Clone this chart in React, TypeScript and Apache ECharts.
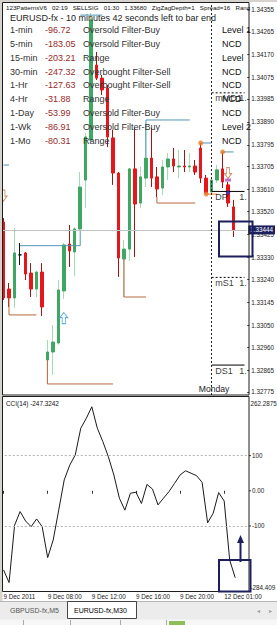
import React, { useEffect, useRef } from 'react';
import * as echarts from 'echarts';

const FONT = 'Liberation Sans';

const categories = [
  '9 Dec 04:00', '9 Dec 04:30', '9 Dec 05:00', '9 Dec 05:30', '9 Dec 06:00', '9 Dec 06:30', '9 Dec 07:00', '9 Dec 07:30',
  '9 Dec 08:00', '9 Dec 08:30', '9 Dec 09:00', '9 Dec 09:30', '9 Dec 10:00', '9 Dec 10:30', '9 Dec 11:00', '9 Dec 11:30',
  '9 Dec 12:00', '9 Dec 12:30', '9 Dec 13:00', '9 Dec 13:30', '9 Dec 14:00', '9 Dec 14:30', '9 Dec 15:00', '9 Dec 15:30',
  '9 Dec 16:00', '9 Dec 16:30', '9 Dec 17:00', '9 Dec 17:30', '9 Dec 18:00', '9 Dec 18:30', '9 Dec 19:00', '9 Dec 19:30',
  '9 Dec 20:00', '9 Dec 20:30', '9 Dec 21:00', '9 Dec 21:30', '9 Dec 22:00', '9 Dec 22:30',
  '12 Dec 00:00', '12 Dec 00:30', '12 Dec 01:00', '12 Dec 01:30', '12 Dec 02:00',
  '12 Dec 02:30', '12 Dec 03:00',
];

const openP = [1.33477, 1.33200, 1.33163, 1.33341, 1.33349, 1.33266, 1.33200, 1.33270, 1.32907, 1.32940, 1.32977, 1.33192, 1.33386, 1.33353, 1.33448, 1.33650, 1.33815, 1.34125, 1.34071, 1.34030, 1.33824, 1.33679, 1.33324, 1.33365, 1.33696, 1.33555, 1.33658, 1.33741, 1.33663, 1.33617, 1.33704, 1.33737, 1.33704, 1.33708, 1.33704, 1.33708, 1.33782, 1.33658, 1.33601, 1.33650, 1.33696, 1.33630, 1.33539];
const closeP = [1.33163, 1.33163, 1.33349, 1.33341, 1.33262, 1.33200, 1.33270, 1.33126, 1.32940, 1.32981, 1.33196, 1.33382, 1.33357, 1.33448, 1.33621, 1.33828, 1.34311, 1.34071, 1.34022, 1.33828, 1.33679, 1.33328, 1.33365, 1.33696, 1.33551, 1.33663, 1.33741, 1.33658, 1.33613, 1.33704, 1.33737, 1.33708, 1.33708, 1.33704, 1.33708, 1.33683, 1.33658, 1.33597, 1.33650, 1.33692, 1.33642, 1.33555, 1.33444];
const lowP = [1.33155, 1.33126, 1.33122, 1.33299, 1.33237, 1.33167, 1.33167, 1.33089, 1.32812, 1.32845, 1.32970, 1.33159, 1.33291, 1.33254, 1.33444, 1.33535, 1.33807, 1.34063, 1.34001, 1.33786, 1.33630, 1.33250, 1.33167, 1.33316, 1.33332, 1.33535, 1.33621, 1.33621, 1.33580, 1.33588, 1.33650, 1.33683, 1.33658, 1.33683, 1.33683, 1.33671, 1.33638, 1.33592, 1.33588, 1.33638, 1.33617, 1.33539, 1.33415];
const highP = [1.33493, 1.33225, 1.33452, 1.33390, 1.33353, 1.33307, 1.33275, 1.33307, 1.32990, 1.33051, 1.33237, 1.33390, 1.33464, 1.33456, 1.33683, 1.33844, 1.34340, 1.34179, 1.34084, 1.34042, 1.33857, 1.33683, 1.33402, 1.33700, 1.33865, 1.33704, 1.33857, 1.33865, 1.33704, 1.33733, 1.33762, 1.33782, 1.33774, 1.33774, 1.33762, 1.33733, 1.33803, 1.33671, 1.33658, 1.33712, 1.33766, 1.33642, 1.33568];

const cci = [-225, -261, -98, -59, -86, -102, -80, -102, -190, -140, -55, 31, 73, 102, 178, 206, 239, 178, 140, 97, 45, -21, -55, -7, -4, -36, 18, 5, -40, -21, -2, 21, 45, 57, 50, 43, 24, -91, -64, -5, -29, -197, -247.3242];

const priceTicks = [1.32775, 1.32865, 1.32960, 1.33050, 1.33145, 1.33240, 1.33330, 1.33425, 1.33520, 1.33610, 1.33705, 1.33795, 1.33890, 1.33985, 1.34075, 1.34170, 1.34265, 1.34355];
const priceMin = 1.327624;
const priceMax = 1.343831;
const bidPrice = 1.33444;

const cciMin = -284.409;
const cciMax = 262.2875;
const cciTicks = [-100, 0, 100];
const cciTickLabels = ['-100', '0.00', '100'];
const cciRangeLabels = ['262.2875', '-284.409'];
const cciLevels = [100, -100];

const timeTickIndex = [0, 8, 16, 24, 32, 40];
const timeTickLabels = ['9 Dec 2011', '9 Dec 08:00', '9 Dec 12:00', '9 Dec 16:00', '9 Dec 20:00', '12 Dec 01:00'];

const blueSegments = [
  [[0, 1.33712], [1, 1.33712]],
  [[3, 1.33379], [14, 1.33379], [14, 1.33444]],
  [[14, 1.34331], [18, 1.34331]],
  [[26, 1.33745], [26, 1.33898], [34, 1.33898]],
  [[36, 1.33803], [38, 1.33803]],
  [[40, 1.33766], [42, 1.33766]],
];
const brownSegments = [
  [[1, 1.33163], [1, 1.33093], [6, 1.33093]],
  [[8, 1.32907], [8, 1.32808], [20, 1.32808]],
  [[22, 1.33324], [22, 1.33167], [26, 1.33167]],
  [[28, 1.33580], [28, 1.33555], [35, 1.33555]],
];
const orangeSegments = [
  [[37, 1.33592], [39, 1.33592]],
];
const zigzagPoints = [[36, 1.33803], [37, 1.33592], [40, 1.33766]];
const upArrows = [[11, 1.33080]];
const downArrows = [[41, 1.33679], [0, 1.33586]];

const pivotNames = ['mMD1', 'DP', 'mS1', 'DS1'];
const pivotValues = [1.34010, 1.33603, 1.33248, 1.32886];
const pivotDotted = [true, false, true, false];
const pivotStart = 38;
const pivotEnd = 44;

const tfNames = ['1-min', '5-min', '15-min', '30-min', '1-Hr', '4-Hr', '1-Day', '1-Wk', '1-Mo'];
const tfCci = ['-96.72', '-183.05', '-203.21', '-247.32', '-127.63', '-31.88', '-53.99', '-86.91', '-80.31'];
const tfSignal = ['Oversold Filter-Buy', 'Oversold Filter-Buy', 'Range', 'Overbought Filter-Sell', 'Overbought Filter-Sell', 'Range', 'Oversold Filter-Buy', 'Oversold Filter-Buy', 'Range'];
const tfLevel = ['Level 1', 'NCD', 'Level', 'NCD', 'NCD', 'NCD', 'NCD', 'Level 2', 'NCD'];

const GREEN = '#3fa762';
const GREEN_WICK = '#a9d9b5';
const RED = '#e5161c';
const RED_WICK = '#a01414';
const BLUE_LINE = '#4f95b5';
const BROWN_LINE = '#b8683e';
const NAVY = '#1c1f5c';

function txt(x: number, y: number, text: string, size: number, color: string, align = 'left') {
  return {
    type: 'text', x, y, z: 100, silent: true,
    style: {
      text, fontSize: size, fontFamily: FONT, fill: color,
      align, verticalAlign: 'middle', textAlign: align, textVerticalAlign: 'middle',
    },
  };
}

export default function App() {
  const ref = useRef<HTMLDivElement>(null);

  useEffect(() => {
    if (!ref.current) return;
    const chart = echarts.init(ref.current, undefined, { renderer: 'svg' });

    const ohlc = openP.map((o, i) => [o, closeP[i], lowP[i], highP[i]]);
    const bodies = openP.map((o, i) => [o, closeP[i], Math.min(o, closeP[i]), Math.max(o, closeP[i])]);

    const segSeries = (segs: number[][][], color: string) =>
      segs.map((seg) => ({
        type: 'line', xAxisIndex: 0, yAxisIndex: 0, data: seg, symbol: 'none', silent: true, z: 4,
        lineStyle: { color, width: 1 },
      }));

    const pivotSeries = pivotValues.map((v, i) => ({
      type: 'line', xAxisIndex: 0, yAxisIndex: 0, symbol: 'none', silent: true, z: 4,
      data: [[pivotStart, v], [pivotEnd, v]],
      lineStyle: { color: '#000', width: 1, type: pivotDotted[i] ? [2, 2] : 'solid' },
    }));

    const rowY = tfNames.map((_, i) => 30 + i * 13.86);
    const tableTexts: any[] = [];
    tfNames.forEach((n, i) => {
      tableTexts.push(txt(10, rowY[i], n, 9, '#333'));
      tableTexts.push(txt(45, rowY[i], tfCci[i], 9, '#9a2a2a'));
      tableTexts.push(txt(83, rowY[i], tfSignal[i], 9, '#333'));
      tableTexts.push(txt(222, rowY[i], tfLevel[i], 9, '#111'));
    });

    const graphics: any[] = [
      { type: 'rect', z: 99, silent: true, shape: { x: 0, y: 0, width: 2.5, height: 601 }, style: { fill: '#d6d3ce' } },
      { type: 'rect', z: 99, silent: true, shape: { x: 0, y: 0, width: 277, height: 2 }, style: { fill: '#d6d3ce' } },
      { type: 'rect', z: 101, silent: true, shape: { x: 2.5, y: 2.5, width: 246.5, height: 392.5 }, style: { fill: 'none', stroke: '#1e1e1e', lineWidth: 1 } },
      { type: 'rect', z: 101, silent: true, shape: { x: 2.5, y: 396.5, width: 246.5, height: 195 }, style: { fill: 'none', stroke: '#1e1e1e', lineWidth: 1 } },
      txt(6, 7.5, '123PatternsV6   02:19   SELLSIG   01:30   1.33680   ZigZagDepth=1   Spread=16   Rang', 6.2, '#111'),
      txt(10, 17.5, 'EURUSD-fx - 10 minutes 42 seconds left to bar end', 9, '#222'),
      ...tableTexts,
      txt(214, 389, 'Monday', 8.6, '#222', 'center'),
      txt(6, 403.5, 'CCI(14) -247.3242', 6.4, '#111'),
      txt(250.5, 403.5, cciRangeLabels[0], 6.3, '#222'),
      txt(250.5, 587, cciRangeLabels[1], 6.3, '#222'),
      // annotation boxes
      { type: 'rect', z: 102, silent: true, shape: { x: 219, y: 221.5, width: 33.5, height: 35 }, style: { fill: 'none', stroke: NAVY, lineWidth: 2 } },
      { type: 'rect', z: 102, silent: true, shape: { x: 219, y: 560, width: 31.5, height: 31.5 }, style: { fill: 'none', stroke: NAVY, lineWidth: 2 } },
      { type: 'line', z: 102, silent: true, shape: { x1: 240.5, y1: 562, x2: 240.5, y2: 541 }, style: { stroke: NAVY, lineWidth: 2 } },
      { type: 'polygon', z: 102, silent: true, shape: { points: [[237, 543], [240.5, 535], [244, 543]] }, style: { fill: NAVY } },
      // tab bar
      { type: 'rect', z: 99, silent: true, shape: { x: 0, y: 601, width: 277, height: 24 }, style: { fill: '#ececec' } },
      { type: 'line', z: 99, silent: true, shape: { x1: 0, y1: 601.5, x2: 277, y2: 601.5 }, style: { stroke: '#b5b5b5', lineWidth: 1 } },
      { type: 'rect', z: 100, silent: true, shape: { x: 67.5, y: 601.5, width: 69, height: 17 }, style: { fill: '#fff', stroke: '#444', lineWidth: 1 } },
      txt(10, 610.5, 'GBPUSD-fx,M5', 7, '#555'),
      txt(74, 610.5, 'EURUSD-fx,M30', 7, '#000'),
      txt(258, 610.5, '◂', 6, '#999', 'center'),
      txt(270, 610.5, '▸', 6, '#999', 'center'),
      { type: 'rect', z: 99, silent: true, shape: { x: 0, y: 619.5, width: 277, height: 6 }, style: { fill: '#f6f6f6' } },
      ...[23, 70, 120, 166].map((x) => ({ type: 'line', z: 100, silent: true, shape: { x1: x + 0.5, y1: 620, x2: x + 0.5, y2: 625 }, style: { stroke: '#a8a8a8', lineWidth: 1 } })),
      { type: 'rect', z: 100, silent: true, shape: { x: 169, y: 621, width: 16, height: 4 }, style: { fill: '#8cbf5a' } },
    ];

    const option: any = {
      animation: false,
      backgroundColor: '#fff',
      textStyle: { fontFamily: FONT },
      grid: [
        { left: 0.8, width: 248.2, top: 2.5, height: 392.5 },
        { left: 0.8, width: 248.2, top: 398.6, height: 192.2 },
      ],
      xAxis: [
        {
          type: 'category', gridIndex: 0, data: categories, boundaryGap: true,
          axisLine: { show: false }, axisTick: { show: false }, axisLabel: { show: false }, splitLine: { show: false },
        },
        {
          type: 'category', gridIndex: 1, data: categories, boundaryGap: true,
          axisLine: { show: false },
          axisTick: {
            show: true, alignWithLabel: true, length: 3, lineStyle: { color: '#333' },
            interval: (idx: number) => timeTickIndex.includes(idx),
          },
          axisLabel: {
            show: true, align: 'left', margin: 3, fontSize: 6.3, color: '#222', fontFamily: FONT, hideOverlap: false,
            interval: (idx: number) => timeTickIndex.includes(idx),
            formatter: (_v: string, idx: number) => {
              const k = timeTickIndex.indexOf(idx);
              return k >= 0 ? timeTickLabels[k] : '';
            },
          },
          splitLine: { show: false },
        },
      ],
      yAxis: [
        {
          type: 'value', gridIndex: 0, position: 'right', min: priceMin, max: priceMax,
          axisLine: { show: false }, splitLine: { show: false },
          axisTick: { show: true, length: 2, customValues: priceTicks, lineStyle: { color: '#333' } },
          axisLabel: {
            show: true, customValues: priceTicks, margin: 4, fontSize: 6.3, color: '#222', fontFamily: FONT,
            hideOverlap: false,
            formatter: (v: number) => v.toFixed(5),
          },
        },
        {
          type: 'value', gridIndex: 1, position: 'right', min: cciMin, max: cciMax,
          axisLine: { show: false }, splitLine: { show: false },
          axisTick: { show: false },
          axisLabel: { show: false },
        },
      ],
      graphic: { elements: graphics },
      series: [
        {
          name: 'wicks', type: 'candlestick', xAxisIndex: 0, yAxisIndex: 0, data: ohlc, barWidth: 1, z: 2,
          itemStyle: {
            color: GREEN_WICK, color0: RED_WICK, borderColor: GREEN_WICK, borderColor0: RED_WICK,
            borderColorDoji: '#111', borderWidth: 1,
          },
          silent: true,
        },
        {
          name: 'bodies', type: 'candlestick', xAxisIndex: 0, yAxisIndex: 0, data: bodies, barWidth: 3, z: 3,
          itemStyle: {
            color: GREEN, color0: RED, borderColor: GREEN, borderColor0: RED,
            borderColorDoji: '#111', borderWidth: 1,
          },
          silent: true,
        },
        {
          name: 'bid', type: 'line', xAxisIndex: 0, yAxisIndex: 0, silent: true, z: 1,
          data: [[0, bidPrice]], symbol: 'none', lineStyle: { opacity: 0 },
          markLine: {
            silent: true, symbol: ['none', 'none'], animation: false, precision: 5,
            data: [
              {
                yAxis: bidPrice,
                lineStyle: { color: '#c2c2c2', width: 1, type: 'solid' },
                label: {
                  show: true, position: 'end', distance: 1, formatter: bidPrice.toFixed(5),
                  backgroundColor: NAVY, color: '#fff', fontSize: 6.3, fontFamily: FONT, padding: [2, 2, 1, 2],
                },
              },
              {
                xAxis: categories[pivotStart],
                lineStyle: { color: '#222', width: 1, type: [2, 2] },
                label: { show: false },
              },
            ],
          },
        },
        ...segSeries(blueSegments, BLUE_LINE),
        ...segSeries(brownSegments, BROWN_LINE),
        ...segSeries(orangeSegments, '#ee7b26'),
        ...pivotSeries,
        {
          type: 'scatter', xAxisIndex: 0, yAxisIndex: 0, silent: true, z: 6,
          data: pivotValues.map((v) => [pivotStart, v]),
          symbol: 'circle', symbolSize: 1, itemStyle: { color: 'rgba(0,0,0,0)' },
          label: {
            show: true, position: 'right', distance: 3, offset: [0, 5.5],
            formatter: (p: any) => '{a|' + pivotNames[p.dataIndex] + '}{b|1.}',
            rich: {
              a: { width: 24, fontSize: 9, color: '#000', fontFamily: FONT },
              b: { fontSize: 9, color: '#000', fontFamily: FONT },
            },
          },
        },
        {
          type: 'scatter', xAxisIndex: 0, yAxisIndex: 0, silent: true, z: 7,
          data: zigzagPoints, symbol: 'circle', symbolSize: 5, itemStyle: { color: '#ee7b26' },
        },
        {
          type: 'scatter', xAxisIndex: 0, yAxisIndex: 0, silent: true, z: 7,
          data: upArrows, symbol: 'path://M4,0 L8,5 L5.6,5 L5.6,11 L2.4,11 L2.4,5 L0,5 Z', symbolSize: [8, 11],
          itemStyle: { color: '#ffffff', borderColor: '#3b9ee0', borderWidth: 1 },
        },
        {
          type: 'scatter', xAxisIndex: 0, yAxisIndex: 0, silent: true, z: 7,
          data: downArrows, symbol: 'path://M4,11 L8,6 L5.6,6 L5.6,0 L2.4,0 L2.4,6 L0,6 Z', symbolSize: [7, 11],
          itemStyle: { color: '#ffffff', borderColor: '#c8784a', borderWidth: 1 },
        },
        {
          type: 'scatter', xAxisIndex: 0, yAxisIndex: 0, silent: true, z: 8,
          data: [[41, 1.33650]], symbol: 'rect', symbolSize: [6, 3], itemStyle: { color: '#b04cb0' },
        },
        {
          type: 'scatter', xAxisIndex: 0, yAxisIndex: 0, silent: true, z: 8,
          data: [[41, 1.33598]], symbol: 'diamond', symbolSize: 5, itemStyle: { color: '#2a36c0' },
        },
        {
          name: 'CCI(14)', type: 'line', xAxisIndex: 1, yAxisIndex: 1, data: cci, symbol: 'none', silent: true,
          lineStyle: { color: '#1a1a1a', width: 1 },
          markLine: {
            silent: true, symbol: ['none', 'none'], animation: false, precision: 4,
            label: { show: false },
            lineStyle: { color: '#b4b4b4', width: 1, type: [2, 2] },
            data: cciLevels.map((v) => ({ yAxis: v })),
          },
        },
      ],
    };

    chart.setOption(option);

    // CCI axis labels, positioned through the CCI value axis
    const cciLabelEls: any[] = [];
    cciTicks.forEach((v, i) => {
      const y = chart.convertToPixel({ yAxisIndex: 1 }, v) as number;
      cciLabelEls.push({ type: 'line', z: 100, silent: true, shape: { x1: 249, y1: y, x2: 251, y2: y }, style: { stroke: '#333', lineWidth: 1 } });
      cciLabelEls.push(txt(252, y, cciTickLabels[i], 6.3, '#222'));
    });
    chart.setOption({ graphic: { elements: [...graphics, ...cciLabelEls] } });

    return () => chart.dispose();
  }, []);

  return (
    <div
      ref={ref}
      style={{ position: 'fixed', left: 0, top: 0, width: 277, height: 625, background: '#fff' }}
    />
  );
}
